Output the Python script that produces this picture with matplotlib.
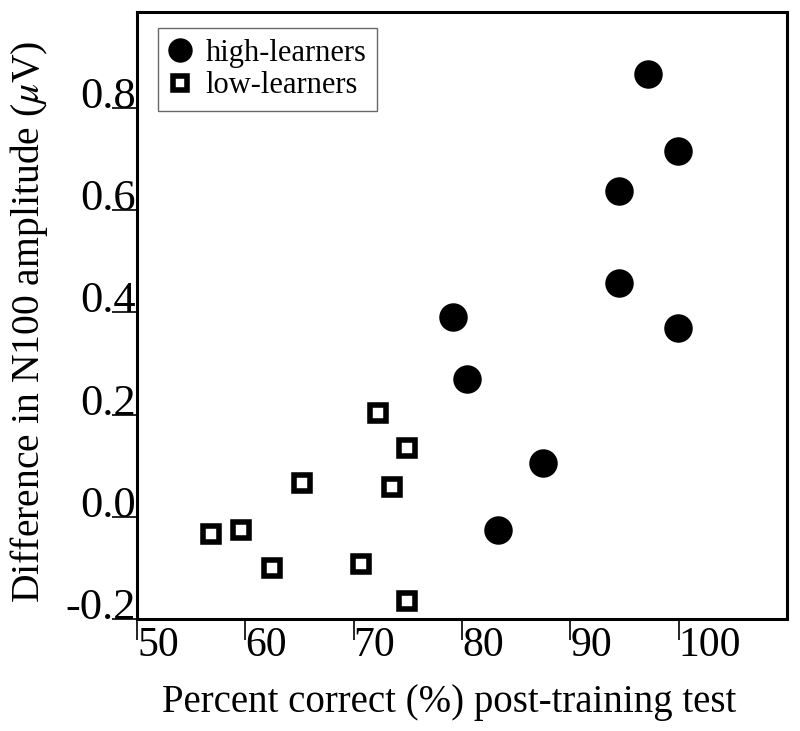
import matplotlib
matplotlib.use("Agg")
import matplotlib.pyplot as plt

plt.rcParams['font.family'] = ['Liberation Serif', 'DejaVu Serif']
plt.rcParams['mathtext.fontset'] = 'stix'

# high-learners (filled circles)
high_x = [97.2, 99.9, 94.45, 94.45, 99.9, 79.2, 80.5, 87.5, 83.3]
high_y = [0.866, 0.715, 0.637, 0.458, 0.369, 0.392, 0.270, 0.105, -0.025]

# low-learners (open squares)
low_x = [72.2, 74.9, 65.25, 73.5, 56.8, 59.6, 62.45, 70.7, 74.9]
low_y = [0.203, 0.135, 0.066, 0.058, -0.033, -0.025, -0.101, -0.093, -0.164]

x_ticks = [50, 60, 70, 80, 90, 100]
y_ticks = [-0.2, 0.0, 0.2, 0.4, 0.6, 0.8]

fig = plt.figure(figsize=(8, 7.31), dpi=100)
ax = fig.add_axes([137/800, 112/731, 650/800, 607/731])

ax.plot(high_x, high_y, 'o', color='black', markersize=19.5,
        linestyle='none', label='high-learners')
ax.plot(low_x, low_y, 's', markerfacecolor='white', markeredgecolor='black',
        markersize=12, markeredgewidth=4, linestyle='none', label='low-learners')

ax.set_xlim(50, 110)
ax.set_ylim(-0.2, 0.988)

for s in ax.spines.values():
    s.set_linewidth(2.2)

ax.set_xticks(x_ticks)
ax.set_xticklabels([str(v) for v in x_ticks])
ax.set_yticks(y_ticks)
ax.set_yticklabels(['%.1f' % v for v in y_ticks])

ax.tick_params(axis='y', direction='out', length=18, width=1.2,
               pad=-17, labelsize=32)
ax.tick_params(axis='x', direction='out', length=15, width=1.2,
               pad=-9.5, labelsize=30)
for lab in ax.get_yticklabels():
    lab.set_va('baseline')
for lab in ax.get_xticklabels():
    lab.set_ha('left')

ax.set_xlabel('Percent correct (%) post-training test', fontsize=28)
ax.xaxis.set_label_coords(0.48, -0.107)
ax.set_ylabel(r'Difference in N100 amplitude ($\mu$V)', fontsize=28.5)
ax.yaxis.set_label_coords(-0.134, 0.49)

leg = ax.legend(loc='upper left', bbox_to_anchor=(21/650, 1 - 16/607),
                borderaxespad=0, fontsize=22, frameon=True, fancybox=False,
                handletextpad=0.45, handlelength=0.75, borderpad=0.35,
                labelspacing=0.12, markerscale=0.85)
leg.get_frame().set_edgecolor('#444444')
leg.get_frame().set_linewidth(1.0)

fig.savefig('out.png', dpi=100)
